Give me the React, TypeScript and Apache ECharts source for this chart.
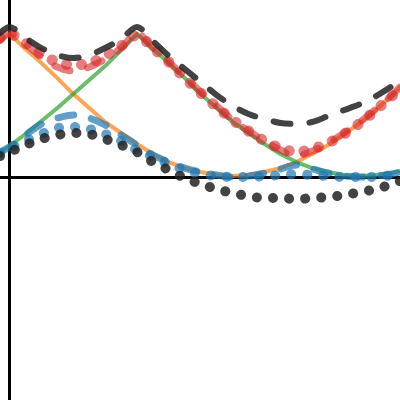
import React, { useEffect, useRef } from "react";
import * as echarts from "echarts";

const xs = [-0.075, 0, 0.125, 0.25, 0.375, 0.5, 0.625, 0.75, 0.875, 1, 1.125, 1.25, 1.375, 1.5, 1.625, 1.75, 1.875, 2, 2.125, 2.25, 2.375, 2.5, 2.625, 2.75, 2.875, 3, 3.063];

const curveA = [0.944, 1.0, 0.895, 0.797, 0.692, 0.58, 0.483, 0.385, 0.308, 0.231, 0.161, 0.105, 0.063, 0.035, 0.014, 0.007, 0.014, 0.035, 0.063, 0.105, 0.161, 0.224, 0.301, 0.378, 0.469, 0.573, 0.629];
const curveB = [0.175, 0.217, 0.301, 0.392, 0.483, 0.58, 0.678, 0.776, 0.888, 1.0, 0.895, 0.797, 0.692, 0.58, 0.483, 0.385, 0.308, 0.231, 0.161, 0.105, 0.063, 0.035, 0.014, 0.007, 0.014, 0.028, 0.042];
const maxDashed = [0.958, 1.007, 0.93, 0.839, 0.769, 0.741, 0.769, 0.825, 0.902, 1.007, 0.902, 0.804, 0.699, 0.594, 0.497, 0.399, 0.322, 0.252, 0.189, 0.147, 0.182, 0.238, 0.308, 0.385, 0.476, 0.573, 0.629];
const maxDotted = [0.972, 1.0, 0.937, 0.86, 0.804, 0.783, 0.797, 0.846, 0.916, 0.993, 0.902, 0.804, 0.692, 0.587, 0.49, 0.399, 0.322, 0.252, 0.203, 0.175, 0.196, 0.238, 0.301, 0.378, 0.469, 0.566, 0.622];
const softMax = [1.007, 1.049, 0.972, 0.902, 0.853, 0.832, 0.853, 0.902, 0.965, 1.049, 0.951, 0.846, 0.755, 0.664, 0.573, 0.497, 0.441, 0.406, 0.378, 0.371, 0.385, 0.427, 0.469, 0.51, 0.566, 0.636, 0.678];
const minDashed = [0.175, 0.21, 0.294, 0.371, 0.413, 0.434, 0.413, 0.364, 0.294, 0.224, 0.154, 0.105, 0.063, 0.035, 0.014, 0.0, 0.007, 0.028, 0.056, 0.084, 0.056, 0.028, 0.007, 0.0, 0.007, 0.021, 0.035];
const minDotted = [0.168, 0.203, 0.252, 0.301, 0.343, 0.35, 0.336, 0.301, 0.252, 0.189, 0.14, 0.091, 0.049, 0.021, 0.007, 0.0, 0.0, 0.007, 0.014, 0.021, 0.014, 0.007, 0.0, 0.0, 0.0, 0.014, 0.028];
const softMin = [0.147, 0.175, 0.224, 0.266, 0.294, 0.308, 0.301, 0.266, 0.224, 0.175, 0.105, 0.049, -0.007, -0.049, -0.084, -0.112, -0.133, -0.147, -0.147, -0.154, -0.147, -0.14, -0.126, -0.105, -0.084, -0.049, -0.028];

const pair = (ys: number[]) => xs.map((x, i) => [x, ys[i]]);

export default function App() {
  const ref = useRef<HTMLDivElement>(null);
  useEffect(() => {
    if (!ref.current) return;
    const chart = echarts.init(ref.current, null, { renderer: "svg" });
    const line = (name: string, ys: number[], color: string, width: number, type: any, smooth: any) => ({
      name,
      type: "line",
      data: pair(ys),
      symbol: "none",
      smooth,
      lineStyle: { color, width, type, cap: "round", join: "round" },
    });
    chart.setOption({
      animation: false,
      backgroundColor: "#ffffff",
      grid: { left: 0, right: 0, top: 0, bottom: 0, containLabel: false },
      xAxis: {
        type: "value",
        min: -0.075,
        max: 3.063,
        axisLine: { onZero: true, lineStyle: { color: "#000", width: 3 } },
        axisTick: { show: false },
        axisLabel: { show: false },
        splitLine: { show: false },
      },
      yAxis: {
        type: "value",
        min: -1.559,
        max: 1.238,
        axisLine: { show: true, onZero: true, lineStyle: { color: "#000", width: 3 } },
        axisTick: { show: false },
        axisLabel: { show: false },
        splitLine: { show: false },
      },
      series: [
        line("A", curveA, "rgba(255,127,14,0.7)", 4, "solid", false),
        line("B", curveB, "rgba(44,160,44,0.7)", 4, "solid", false),
        line("max dashed", maxDashed, "rgba(214,39,40,0.6)", 7, [16, 18], 0.3),
        line("max dotted", maxDotted, "rgba(214,39,40,0.6)", 11, [0.1, 15], 0.3),
        line("min dashed", minDashed, "rgba(31,119,180,0.7)", 7, [16, 18], 0.3),
        line("min dotted", minDotted, "rgba(31,119,180,0.7)", 10, [0.1, 16], 0.3),
        line("soft max", softMax, "rgba(34,34,34,0.85)", 6, [17, 19], 0.3),
        line("soft min", softMin, "rgba(34,34,34,0.85)", 10, [0.1, 16], 0.3),
      ],
    });
    return () => chart.dispose();
  }, []);
  return <div ref={ref} style={{ position: "fixed", left: 0, top: 0, width: 400, height: 400 }} />;
}
